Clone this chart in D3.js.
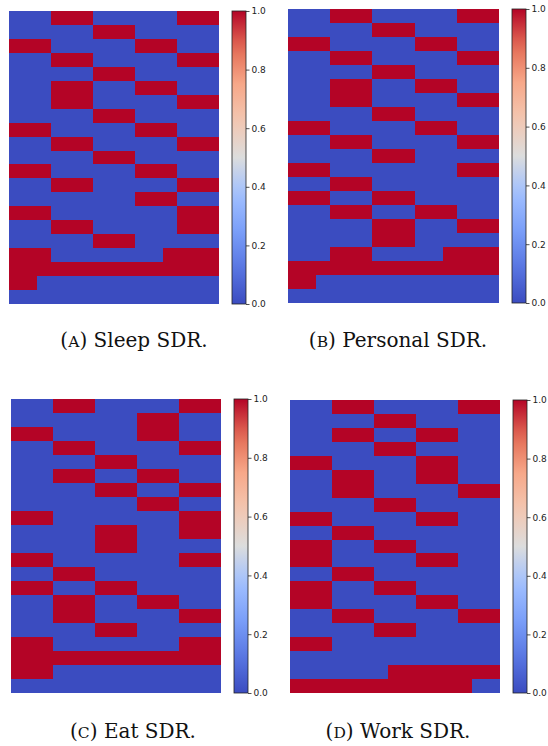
<!DOCTYPE html>
<html>
<head>
<meta charset="utf-8">
<script src="https://cdn.jsdelivr.net/npm/d3@7"></script>
<style>
  html, body { margin: 0; padding: 0; background: #fff; }
  svg { display: block; }
</style>
</head>
<body>
<svg id="chart" width="548" height="746"></svg>
<script>
// Binary SDR matrices: 21 rows x 15 bits each, "1" = active bit
const sleepRows = [
  "000111000000111", "000000111000000", "111000000111000", "000111000000111",
  "000000111000000", "000111000111000", "000111000000111", "000000111000000",
  "111000000111000", "000111000000111", "000000111000000", "111000000111000",
  "000111000000111", "000000000111000", "111000000000111", "000111000000111",
  "000000111000000", "111000000001111", "111111111111111", "110000000000000",
  "000000000000000"
];
const personalRows = [
  "000111000000111", "000000111000000", "111000000111000", "000111000000111",
  "000000111000000", "000111000111000", "000111000000111", "000000111000000",
  "111000000111000", "000111000000111", "000000111000000", "111000000000111",
  "000111000000000", "111000111000000", "000111000111000", "000000111000111",
  "000000111000000", "000111000001111", "111111111111111", "110000000000000",
  "000000000000000"
];
const eatRows = [
  "000111000000111", "000000000111000", "111000000111000", "000111000000111",
  "000000111000000", "000111000111000", "000000111000111", "000000000111000",
  "111000000000111", "000000111000111", "000000111000000", "111000000000111",
  "000111000000000", "111000111000000", "000111000111000", "000111000000111",
  "000000111000000", "111000000000111", "111111111111111", "111000000000000",
  "000000000000000"
];
const workRows = [
  "000111000000111", "000000111000000", "000111000111000", "000000111000000",
  "111000000111000", "000111000111000", "000111000000111", "000000111000000",
  "111000000111000", "000111000000000", "111000111000000", "111000000111000",
  "000111000000000", "111000111000000", "111000000111000", "000111000000111",
  "000000111000000", "111000000000000", "000000000000000", "000000011111111",
  "111111111111100"
];

const captionLetters = ["A", "B", "C", "D"];
const captionNames = ["Sleep SDR.", "Personal SDR.", "Eat SDR.", "Work SDR."];
const colorbarTicks = [0.0, 0.2, 0.4, 0.6, 0.8, 1.0];

// Diverging blue-white-red colour map (coolwarm)
const coolwarmStops = [0, 0.125, 0.25, 0.375, 0.5, 0.625, 0.75, 0.875, 1];
const coolwarmColors = ["#3b4cc0", "#5977e3", "#7b9ff9", "#a1c0ff", "#dcdddd",
                        "#f3c7b1", "#f7a889", "#e36c55", "#b40426"];
const color = d3.scaleLinear().domain(coolwarmStops).range(coolwarmColors)
  .interpolate(d3.interpolateRgb);

const matrices = [sleepRows, personalRows, eatRows, workRows];

// Panel placement: heatmap box, colour bar box, caption centre
const panels = [
  { x: 9,   y: 11,  w: 210, h: 293, cbx: 232, cx: 134, cy: 347 },
  { x: 288, y: 9,   w: 211, h: 294, cbx: 512, cx: 398, cy: 347 },
  { x: 11,  y: 399, w: 210, h: 294, cbx: 234, cx: 133, cy: 738 },
  { x: 290, y: 400, w: 210, h: 293, cbx: 513, cx: 398, cy: 738 }
];

const svg = d3.select("#chart");

panels.forEach((p, i) => {
  const rows = matrices[i];
  const grid = rows.map(r => r.split("").map(Number));
  const nRows = grid.length, nCols = grid[0].length;

  const x = d3.scaleBand().domain(d3.range(nCols)).range([p.x, p.x + p.w]);
  const y = d3.scaleBand().domain(d3.range(nRows)).range([p.y, p.y + p.h]);

  const cells = grid.flatMap((row, r) => row.map((v, c) => ({ r, c, v })));

  const g = svg.append("g").attr("class", "panel");
  g.selectAll("rect.cell").data(cells).join("rect")
    .attr("class", "cell")
    .attr("x", d => x(d.c))
    .attr("y", d => y(d.r))
    .attr("width", x.bandwidth() + 0.4)
    .attr("height", y.bandwidth() + 0.4)
    .attr("fill", d => color(d.v))
    .attr("shape-rendering", "crispEdges");

  // Colour bar
  const cbW = 14;
  const cbScale = d3.scaleLinear().domain([0, 1]).range([p.y + p.h, p.y]);
  const gradId = "cb-grad-" + i;
  const grad = svg.append("defs").append("linearGradient")
    .attr("id", gradId).attr("x1", 0).attr("y1", 1).attr("x2", 0).attr("y2", 0);
  grad.selectAll("stop").data(d3.range(0, 1.0001, 0.05)).join("stop")
    .attr("offset", d => d)
    .attr("stop-color", d => color(d));

  g.append("rect")
    .attr("x", p.cbx).attr("y", p.y)
    .attr("width", cbW).attr("height", p.h)
    .attr("fill", `url(#${gradId})`);

  const axis = d3.axisRight(cbScale)
    .tickValues(colorbarTicks)
    .tickFormat(d3.format(".1f"))
    .tickSize(3.5)
    .tickPadding(2);
  const ag = g.append("g")
    .attr("transform", `translate(${p.cbx + cbW},0)`)
    .call(axis);
  ag.select(".domain").remove();
  ag.selectAll("line").attr("stroke", "#222").attr("stroke-width", 0.8);
  ag.selectAll("text")
    .attr("fill", "#222")
    .style("font-family", "DejaVu Sans, sans-serif")
    .style("font-size", "9px");

  g.append("rect")
    .attr("x", p.cbx).attr("y", p.y)
    .attr("width", cbW).attr("height", p.h)
    .attr("fill", "none").attr("stroke", "#222").attr("stroke-width", 0.8);

  // Caption with small-caps panel letter
  const t = g.append("text")
    .attr("x", p.cx).attr("y", p.cy)
    .attr("text-anchor", "middle")
    .attr("fill", "#111")
    .style("font-family", "DejaVu Serif, serif")
    .style("font-size", "20px");
  t.append("tspan").text("(");
  t.append("tspan").style("font-size", "15.5px").text(captionLetters[i]);
  t.append("tspan").text(") " + captionNames[i]);
});
</script>
</body>
</html>
